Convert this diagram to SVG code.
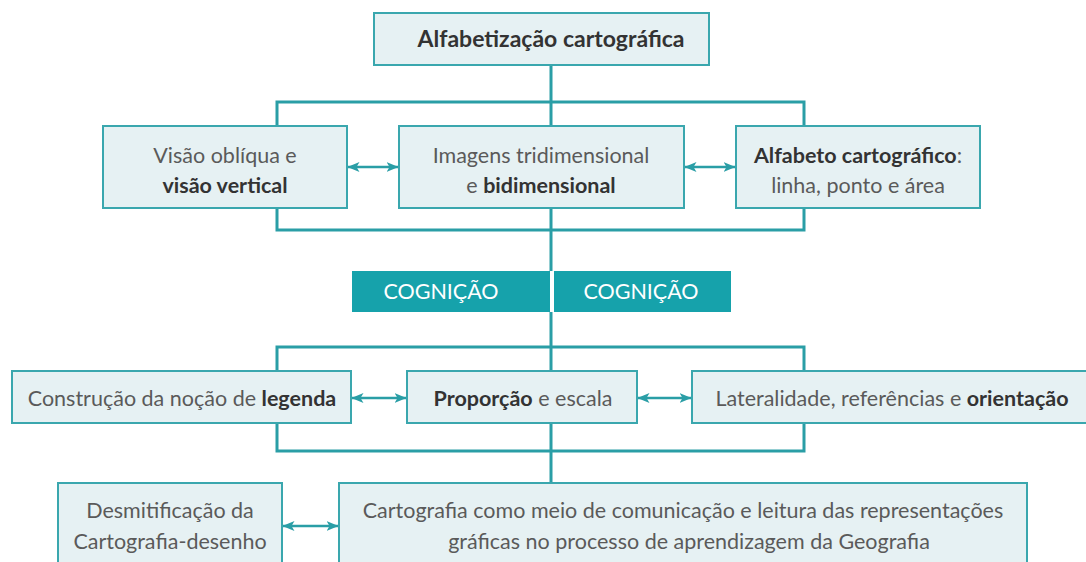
<svg xmlns="http://www.w3.org/2000/svg" width="1086" height="562" viewBox="0 0 1086 562">
<style>
.box{fill:#e6f1f3;stroke:#3aa7ae;stroke-width:2}
.bar{fill:#16a2ab}
.ln{fill:none;stroke:#2a9ea6;stroke-width:3}
.ar{fill:none;stroke:#2a9ea6;stroke-width:2.5}
text{font-family:Lato,"Liberation Sans",sans-serif;font-size:21.5px;fill:#5a5a5a;text-anchor:middle}
.b{font-weight:bold;fill:#333}
.t{font-size:23px}
.w{fill:#ffffff;font-size:21.5px}
</style>
<defs>
<marker id="ah" viewBox="0 0 12 10" refX="11.5" refY="5" markerWidth="12" markerHeight="10" markerUnits="userSpaceOnUse" orient="auto-start-reverse">
<path d="M0,0 L12,5 L0,10 L3,5 Z" fill="#2a9ea6"/>
</marker>
</defs>
<rect width="1086" height="562" fill="#ffffff"/>
<g id="connectors">
<path class="ln" d="M551,65 V271 M551,312 V483"/>
<path class="ln" d="M277,126 V102 H804 V126 M277,208 V230 H804 V208"/>
<path class="ln" d="M277,371 V347 H804 V371 M277,423 V451 H804 V423"/>
<line class="ar" x1="348" y1="167" x2="398" y2="167" marker-start="url(#ah)" marker-end="url(#ah)"/>
<line class="ar" x1="685" y1="167" x2="735" y2="167" marker-start="url(#ah)" marker-end="url(#ah)"/>
<line class="ar" x1="352" y1="398" x2="406" y2="398" marker-start="url(#ah)" marker-end="url(#ah)"/>
<line class="ar" x1="638" y1="398" x2="691" y2="398" marker-start="url(#ah)" marker-end="url(#ah)"/>
<line class="ar" x1="283" y1="526" x2="338" y2="526" marker-start="url(#ah)" marker-end="url(#ah)"/>
</g>
<g id="n-top">
<rect class="box" x="374" y="13" width="335" height="52"/>
<text x="551" y="47" class="b t">Alfabetização cartográfica</text>
</g>
<g id="n-visao">
<rect class="box" x="103" y="126" width="244" height="82"/>
<text x="225" y="163">Visão oblíqua e</text>
<text x="225" y="193" class="b">visão vertical</text>
</g>
<g id="n-imagens">
<rect class="box" x="399" y="126" width="285" height="82"/>
<text x="541" y="163">Imagens tridimensional</text>
<text x="541" y="193"><tspan>e </tspan><tspan class="b">bidimensional</tspan></text>
</g>
<g id="n-alfabeto">
<rect class="box" x="736" y="126" width="244" height="82"/>
<text x="858" y="163"><tspan class="b">Alfabeto cartográfico</tspan><tspan>:</tspan></text>
<text x="858" y="193">linha, ponto e área</text>
</g>
<g id="n-cognicao">
<rect class="bar" x="352" y="271" width="198" height="41"/>
<rect class="bar" x="554" y="271" width="177" height="41"/>
<text x="441" y="299" class="w">COGNIÇÃO</text>
<text x="641" y="299" class="w">COGNIÇÃO</text>
</g>
<g id="n-legenda">
<rect class="box" x="12" y="371" width="339" height="52"/>
<text x="182" y="406">Construção da noção de <tspan class="b">legenda</tspan></text>
</g>
<g id="n-proporcao">
<rect class="box" x="407" y="371" width="230" height="52"/>
<text x="523" y="406"><tspan class="b">Proporção</tspan> e escala</text>
</g>
<g id="n-lateralidade">
<rect class="box" x="692" y="371" width="400" height="52"/>
<text x="892" y="406">Lateralidade, referências e <tspan class="b">orientação</tspan></text>
</g>
<g id="n-desmitificacao">
<rect class="box" x="58" y="483" width="224" height="90"/>
<text x="170" y="518">Desmitificação da</text>
<text x="170" y="549">Cartografia-desenho</text>
</g>
<g id="n-comunicacao">
<rect class="box" x="339" y="483" width="688" height="90"/>
<text x="683" y="518">Cartografia como meio de comunicação e leitura das representações</text>
<text x="689" y="549">gráficas no processo de aprendizagem da Geografia</text>
</g>
</svg>
